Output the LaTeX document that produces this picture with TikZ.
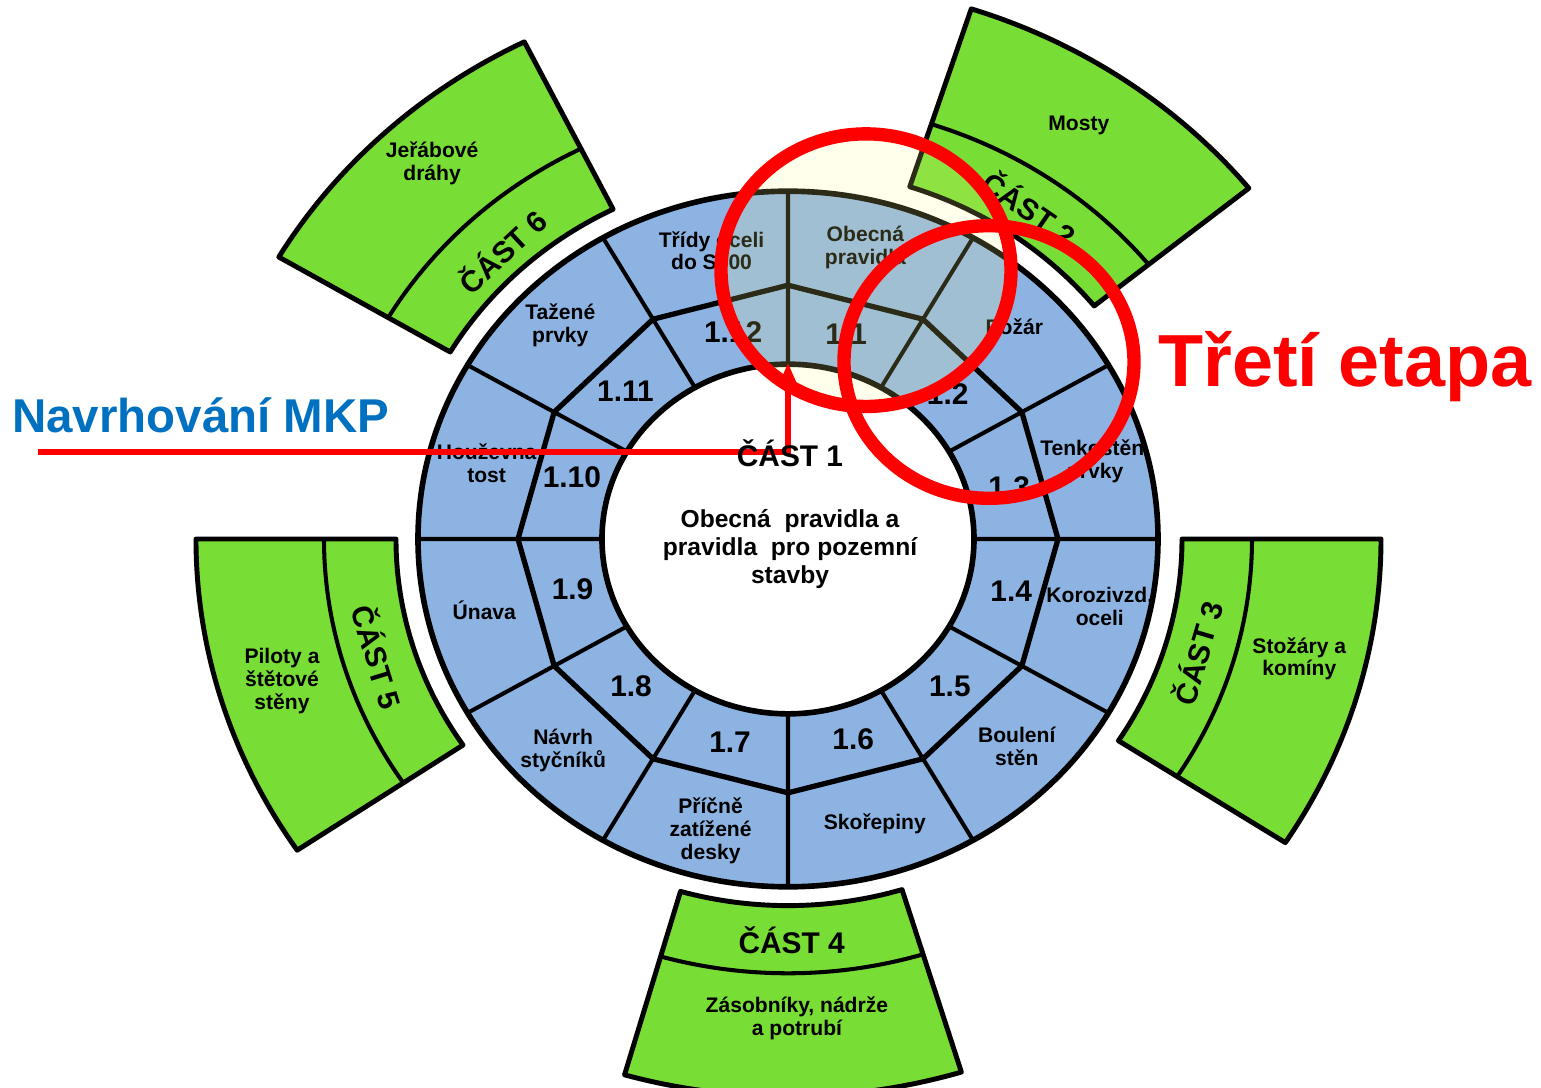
\documentclass[tikz,border=0pt]{standalone}
\usepackage{fontspec}
\setmainfont{Liberation Sans}
\usepackage{tikz}
\usetikzlibrary{arrows,arrows.meta,positioning}

\definecolor{ringblue}{RGB}{141,179,226}
\definecolor{partgreen}{RGB}{120,221,52}
\definecolor{mkpblue}{RGB}{0,112,192}
\definecolor{hilite}{RGB}{255,255,140}

\begin{document}
\begin{tikzpicture}[x=0.2mm,y=0.2mm,yscale=0.94,line join=round]

  \tikzstyle{sector}=[font=\fontsize{12}{13}\selectfont\bfseries,align=center,inner sep=0pt]
  \tikzstyle{number}=[font=\fontsize{17}{19}\selectfont\bfseries,inner sep=0pt]
  \tikzstyle{part}=[font=\fontsize{17}{19}\selectfont\bfseries,inner sep=0pt]
  \tikzstyle{partbox}=[draw=black,line width=2.8pt,fill=partgreen]
  \tikzstyle{divider}=[draw=black,line width=2.3pt]
  \tikzstyle{spoke}=[draw=black,line width=2.3pt]
  \tikzstyle{redring}=[draw=red,line width=7.6pt]

  \useasboundingbox (-788,-584) rectangle (753,573.4);

  % Ring of part 1
  \fill[ringblue] (0,0) circle[radius=370];
  \fill[white] (0,0) circle[radius=186];
  \draw[spoke] (0:186) -- (0:370) (30:186) -- (30:370) (60:186) -- (60:370)
    (90:186) -- (90:370) (120:186) -- (120:370) (150:186) -- (150:370)
    (180:186) -- (180:370) (210:186) -- (210:370) (240:186) -- (240:370)
    (270:186) -- (270:370) (300:186) -- (300:370) (330:186) -- (330:370);
  \draw[line width=3pt] (0:270) -- (30:270) -- (60:270) -- (90:270) -- (120:270)
    -- (150:270) -- (180:270) -- (210:270) -- (240:270) -- (270:270)
    -- (300:270) -- (330:270) -- cycle;
  \draw[line width=3.2pt] (0,0) circle[radius=370] (0,0) circle[radius=186];

  \node [sector] (obecna)  at (76:320)   {Obecná\\pravidla};
  \node [sector] (pozar)   at (45:320)   {Požár};
  \node [sector] (tenko)   at (15:318)   {Tenkostěn.\\prvky};
  \node [sector] (koroz)   at (-13:320)  {Korozivzd.\\oceli};
  \node [sector] (bouleni) at (-44:318)  {Boulení\\stěn};
  \node [sector] (skorep)  at (-74:315)  {Skořepiny};
  \node [sector] (pricne)  at (-104:320) {Příčně\\zatížené\\desky};
  \node [sector] (navrh)   at (-135:318) {Návrh\\styčníků};
  \node [sector] (unava)   at (-166:313) {Únava};
  \node [sector] (houzev)  at (165:312)  {Houževna\\tost};
  \node [sector] (tazene)  at (135:322)  {Tažené\\prvky};
  \node [sector] (tridy)   at (104:316)  {Třídy oceli\\do S700};

  \node [number] (n1)  at (75:225)   {1.1};
  \node [number] (n2)  at (44:222)   {1.2};
  \node [number] (n3)  at (14:228)   {1.3};
  \node [number] (n4)  at (-14:230)  {1.4};
  \node [number] (n5)  at (-44:225)  {1.5};
  \node [number] (n6)  at (-73:223)  {1.6};
  \node [number] (n7)  at (-105:224) {1.7};
  \node [number] (n8)  at (-135:222) {1.8};
  \node [number] (n9)  at (-166:222) {1.9};
  \node [number] (n10) at (163:226)  {1.10};
  \node [number] (n11) at (136:226)  {1.11};
  \node [number] (n12) at (104:227)  {1.12};

  % Parts 2 to 6
  \path[partbox] (39:394) arc[start angle=39,end angle=72,radius=394]
    -- (72:593) arc[start angle=72,end angle=39,radius=593] -- cycle;
  \draw[divider] (39:464) arc[start angle=39,end angle=72,radius=464];
  \node [part,rotate=-34.5] (cast2) at (55.5:428) {ČÁST 2};
  \node [sector] (mosty) at (56.5:527) {Mosty};

  \path[partbox] (-33:394) arc[start angle=-33,end angle=0,radius=394]
    -- (0:593) arc[start angle=0,end angle=-33,radius=593] -- cycle;
  \draw[divider] (-33:464) arc[start angle=-33,end angle=0,radius=464];
  \node [part,rotate=73.5] (cast3) at (-16.5:426) {ČÁST 3};
  \node [sector] (stozary) at (-14:527) {Stožáry a\\komíny};

  \path[partbox] (-106:390) arc[start angle=-106,end angle=-73,radius=390]
    -- (-73:593) arc[start angle=-73,end angle=-106,radius=593] -- cycle;
  \draw[divider] (-106:462) arc[start angle=-106,end angle=-73,radius=462];
  \node [part] (cast4) at (-89.5:427) {ČÁST 4};
  \node [sector] (zasob) at (-89:510) {Zásobníky, nádrže\\a potrubí};

  \path[partbox] (180:392) arc[start angle=180,end angle=214,radius=392]
    -- (214:592) arc[start angle=214,end angle=180,radius=592] -- cycle;
  \draw[divider] (180:464) arc[start angle=180,end angle=214,radius=464];
  \node [part,rotate=-73] (cast5) at (197:428) {ČÁST 5};
  \node [sector] (piloty) at (196.6:528) {Piloty a\\štětové\\stěny};

  \path[partbox] (116.5:392) arc[start angle=116.5,end angle=149.5,radius=392]
    -- (149.5:591) arc[start angle=149.5,end angle=116.5,radius=591] -- cycle;
  \draw[divider] (116.5:464) arc[start angle=116.5,end angle=149.5,radius=464];
  \node [part,rotate=43] (cast6) at (133:420) {ČÁST 6};
  \node [sector] (jerab) at (131.7:535) {Jeřábové\\dráhy};

  % Annotations
  \coordinate (ring1) at (78,286);
  \coordinate (ring2) at (201,188.3);
  \fill[hilite,opacity=0.17] (ring1) circle[radius=145];
  \draw[redring] (ring2) circle[radius=145];
  \draw[redring] (ring1) circle[radius=145];

  \coordinate (mkpstart) at (-750,92.6);
  \coordinate (mkptip)   at (0,187);
  \draw[-{Stealth[length=4.4mm,width=3.8mm]},red,line width=3.4pt,line join=miter]
    (mkpstart) -| (mkptip);

  \node [part] (cast1) at (2,91.5) {ČÁST 1};
  \node [font=\fontsize{14}{16}\selectfont\bfseries,align=center] (obecna1) at (2,-10.6)
    {Obecná \ pravidla a\\pravidla \ pro pozemní\\stavby};

  \node [anchor=west,inner sep=0pt,text=mkpblue,font=\fontsize{27}{30}\selectfont\bfseries]
    (mkp) at (-776,132) {Navrhování MKP};
  \node [anchor=west,inner sep=0pt,text=red,font=\fontsize{42}{46}\selectfont\bfseries]
    (etapa) at (370,183) {Třetí etapa};
\end{tikzpicture}
\end{document}
